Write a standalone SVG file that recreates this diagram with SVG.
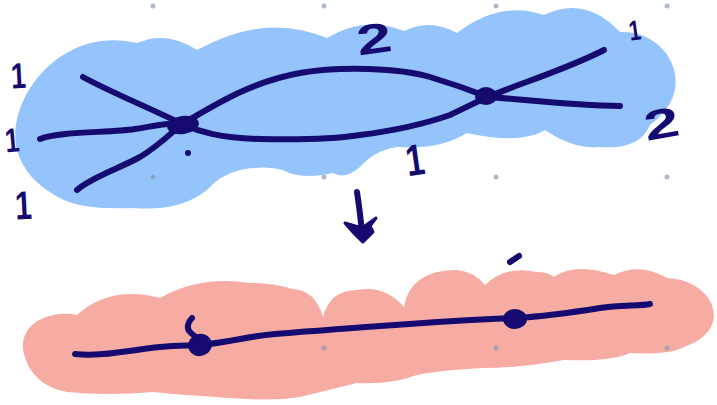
<svg xmlns="http://www.w3.org/2000/svg" width="717" height="405" viewBox="0 0 717 405">
  <style>
    .ink { fill: none; stroke: #140a70; stroke-width: 6; stroke-linecap: round; stroke-linejoin: round; }
    .dot { fill: #140a70; }
    .grid { fill: #8a9bb8; opacity: 0.7; }
    .num { font-family: "Liberation Sans", Arial, sans-serif; font-weight: bold; fill: #140a70; text-anchor: middle; }
  </style>

  <!-- white background -->
  <rect width="717" height="405" fill="#ffffff"/>

  <!-- highlighted regions -->
  <g id="regions">
    <path id="region-top" fill="#95c3fc" d="M17,150 C5,100 60,25 137,43 Q167,30 197,50 Q265,12 327,38 Q365,15 404,31 Q430,18 457,33 Q500,0 544,15 Q585,-5 620,32 C670,30 700,90 650,125 Q640,150 600,147 Q575,150 545,130 Q520,145 467,133 Q440,150 397,147 Q375,150 360,167 Q345,180 333,173 Q300,180 283,170 Q265,165 240,170 Q220,175 207,190 Q180,212 133,208 Q80,210 60,198 Q25,180 17,150 Z"/>
    <path id="region-bottom" fill="#f6aba3" d="M23,350 C20,320 55,310 77,315 Q110,285 160,298 Q200,275 250,283 Q270,282 293,289 Q315,290 323,317 Q330,290 357,290 Q385,285 404,307 Q410,270 457,270 Q475,272 485,285 Q505,265 537,272 Q548,272 554,277 Q575,262 614,275 Q640,262 667,278 C715,280 735,330 684,347 Q670,355 630,353 Q610,362 564,360 Q520,368 484,368 Q440,370 417,375 Q390,385 357,383 Q320,392 300,397 Q270,402 217,397 Q170,394 153,392 Q110,396 67,392 Q30,385 23,350 Z"/>
  </g>

  <!-- background grid points -->
  <g id="grid">
    <circle class="grid" cx="153" cy="6" r="2.5"/>
    <circle class="grid" cx="324" cy="6" r="2.5"/>
    <circle class="grid" cx="496" cy="6" r="2.5"/>
    <circle class="grid" cx="667" cy="6" r="2.5"/>
    <circle class="grid" cx="153" cy="177" r="2.5"/>
    <circle class="grid" cx="324" cy="177" r="2.5"/>
    <circle class="grid" cx="496" cy="177" r="2.5"/>
    <circle class="grid" cx="667" cy="177" r="2.5"/>
    <circle class="grid" cx="324" cy="348" r="2.5"/>
    <circle class="grid" cx="496" cy="348" r="2.5"/>
    <circle class="grid" cx="667" cy="348" r="2.5"/>
  </g>

  <!-- edges -->
  <g id="connectors">
    <path class="ink" d="M83,77 C110,92 150,108 182,124"/>
    <path class="ink" d="M40,139 C60,131 110,133 135,129 C155,126 170,122 182,124"/>
    <path class="ink" d="M77,190 C90,178 120,168 140,157 C160,145 172,132 182,124"/>
    <path class="ink" d="M182,124 C215,105 250,82 300,73 C340,66 400,68 430,77 C450,83 470,90 488,97"/>
    <path class="ink" d="M182,124 C200,132 220,138 260,139 C300,140 340,138 360,135 C400,130 430,122 450,115 C465,108 478,101 488,97"/>
    <path class="ink" d="M488,97 C515,85 565,70 604,50"/>
    <path class="ink" d="M488,97 C520,99 570,105 620,106"/>
    <path class="ink" d="M75,354 C100,357 130,350 160,347 C180,345 190,346 200,345 C230,342 250,336 275,334 C310,331 340,329 380,326 C420,323 460,320 516,318 C550,316 575,312 600,308 C620,305 640,306 650,304"/>
    <!-- transformation arrow -->
    <path class="ink" stroke-width="6" d="M357,192 C359,205 361,220 362,235"/>
    <path class="dot" stroke="#140a70" stroke-width="3" stroke-linejoin="round" d="M345,223 Q355,235 363,242 L373,232 L370,226 L376,218 L362,228 Z"/>
  </g>

  <!-- vertices -->
  <g id="node-a">
    <ellipse class="dot" cx="183" cy="125" rx="16" ry="9" transform="rotate(-8 183 125)"/>
    <circle class="dot" cx="188" cy="153" r="3"/>
  </g>
  <g id="node-b">
    <ellipse class="dot" cx="486" cy="96" rx="11" ry="9"/>
  </g>
  <g id="node-c">
    <ellipse class="dot" cx="200" cy="345" rx="12" ry="11" transform="rotate(-20 200 345)"/>
    <path class="ink" d="M192,318 C188,322 186,328 190,332 C193,335 196,337 197,338"/>
  </g>
  <g id="node-d">
    <ellipse class="dot" cx="515" cy="319" rx="12" ry="10"/>
    <path class="ink" d="M510,262 L519,256"/>
  </g>

  <!-- edge weights -->
  <g id="labels">
    <text class="num" font-size="36" transform="translate(19 88) rotate(-3) scale(0.75 1)">1</text>
    <text class="num" font-size="34" transform="translate(13 152) rotate(-5) scale(0.75 1)">1</text>
    <text class="num" font-size="40" transform="translate(24 219) rotate(-3) scale(0.75 1)">1</text>
    <text class="num" font-size="28" transform="translate(636 40) rotate(-8) scale(0.75 1)">1</text>
    <text class="num" font-size="44" transform="translate(417 175) rotate(-8) scale(0.75 1)">1</text>
    <text class="num" font-size="42" transform="translate(376 53) rotate(-8) scale(1.5 1)">2</text>
    <text class="num" font-size="42" transform="translate(664 138) rotate(-10) scale(1.5 1)">2</text>
  </g>
</svg>
